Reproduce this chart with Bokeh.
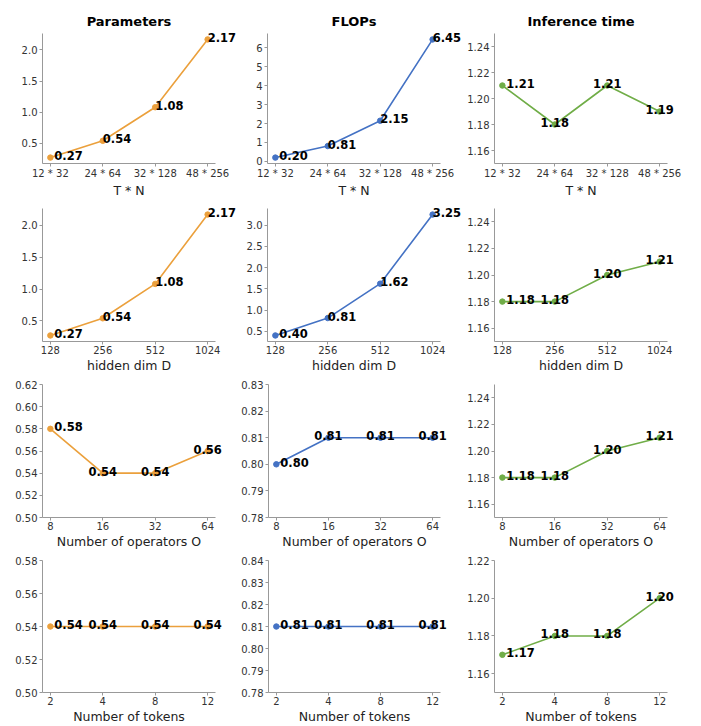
from bokeh.plotting import figure
from bokeh.layouts import column, row
from bokeh.models import Range1d, FixedTicker, SingleIntervalTicker, NumeralTickFormatter, ColumnDataSource
from bokeh.core.properties import value
from bokeh.embed import file_html
from bokeh.resources import INLINE

# ---------------- data ----------------
titles = ["Parameters", "FLOPs", "Inference time"]

x_tn = ["12 * 32", "24 * 64", "32 * 128", "48 * 256"]
x_dim = ["128", "256", "512", "1024"]
x_ops = ["8", "16", "32", "64"]
x_tok = ["2", "4", "8", "12"]

x_labels = ["T * N", "hidden dim D", "Number of operators O", "Number of tokens"]

params_tn = [0.27, 0.54, 1.08, 2.17]
flops_tn = [0.20, 0.81, 2.15, 6.45]
time_tn = [1.21, 1.18, 1.21, 1.19]

params_dim = [0.27, 0.54, 1.08, 2.17]
flops_dim = [0.40, 0.81, 1.62, 3.25]
time_dim = [1.18, 1.18, 1.20, 1.21]

params_ops = [0.58, 0.54, 0.54, 0.56]
flops_ops = [0.80, 0.81, 0.81, 0.81]
time_ops = [1.18, 1.18, 1.20, 1.21]

params_tok = [0.54, 0.54, 0.54, 0.54]
flops_tok = [0.81, 0.81, 0.81, 0.81]
time_tok = [1.17, 1.18, 1.18, 1.20]

# ---------------- style ----------------
FONT = "DejaVu Sans"
ORANGE = "#EBA03C"
BLUE = "#4472C4"
GREEN = "#70AD47"
colors = [ORANGE, BLUE, GREEN]

FRAME_W = 173
LEFT_B = [42, 29, 30]
RIGHT_B = [23, 24, 20]
FRAME_H = 135
TOP_B = [33, 8, 9, 9]
BOT_B = [32, 32, 32, 31]
EPS = 1e-9

# per panel: (values, y limits or None for auto, tick interval, tick format, label alignment of points 2-4)
panels = [
    [(params_tn, None, 0.5, "0.0", "left"), (flops_tn, None, 1, "0", "left"), (time_tn, (1.15, 1.25), 0.02, "0.00", "center")],
    [(params_dim, None, 0.5, "0.0", "left"), (flops_dim, None, 0.5, "0.0", "left"), (time_dim, (1.15, 1.25), 0.02, "0.00", "center")],
    [(params_ops, (0.50, 0.62), 0.02, "0.00", "center"), (flops_ops, (0.78, 0.83), 0.01, "0.00", "center"), (time_ops, (1.15, 1.25), 0.02, "0.00", "center")],
    [(params_tok, (0.50, 0.58), 0.02, "0.00", "center"), (flops_tok, (0.78, 0.84), 0.01, "0.00", "center"), (time_tok, (1.15, 1.22), 0.02, "0.00", "center")],
]
x_cats = [x_tn, x_dim, x_ops, x_tok]

rows = []
for r in range(4):
    figs = []
    cats = x_cats[r]
    xs = list(range(len(cats)))
    for c in range(3):
        vals, ylim, interval, fmt, align = panels[r][c]
        if ylim is None:
            lo, hi = min(vals), max(vals)
            span = hi - lo
            ylim = (lo - 0.05 * span, hi + 0.05 * span)
        w = LEFT_B[c] + FRAME_W + RIGHT_B[c]
        h = TOP_B[r] + FRAME_H + BOT_B[r]
        p = figure(width=w, height=h, output_backend="svg", toolbar_location=None,
                   x_range=Range1d(-0.15, len(cats) - 1 + 0.15),
                   y_range=Range1d(ylim[0] - EPS, ylim[1] + EPS),
                   min_border_left=LEFT_B[c], min_border_right=RIGHT_B[c],
                   min_border_top=TOP_B[r], min_border_bottom=BOT_B[r],
                   title=titles[c] if r == 0 else None)
        if r == 0:
            p.title.align = "center"
            p.title.text_font = FONT
            p.title.text_font_size = "13px"
            p.title.text_font_style = "bold"
            p.title.text_color = "#000000"
            p.title.standoff = 10
        p.outline_line_color = None
        p.grid.visible = False
        p.background_fill_color = "white"
        p.border_fill_color = "white"

        p.xaxis.ticker = FixedTicker(ticks=xs)
        p.xaxis.major_label_overrides = {i: s for i, s in enumerate(cats)}
        p.yaxis.ticker = SingleIntervalTicker(interval=interval)
        p.yaxis.formatter = NumeralTickFormatter(format=fmt)
        p.xaxis.axis_label = x_labels[r]
        p.xaxis.axis_label_text_font = FONT
        p.xaxis.axis_label_text_font_size = "12.5px"
        p.xaxis.axis_label_text_font_style = "normal"
        p.xaxis.axis_label_text_color = "#222222"
        p.xaxis.axis_label_standoff = 1
        for ax in (p.xaxis, p.yaxis):
            ax.axis_line_color = "#999999"
            ax.axis_line_width = 1
            ax.major_tick_line_color = "#999999"
            ax.major_tick_out = 3
            ax.major_tick_in = 0
            ax.minor_tick_line_color = None
            ax.major_label_text_font = FONT
            ax.major_label_text_font_size = "10px"
            ax.major_label_text_color = "#333333"
            ax.major_label_standoff = 1

        col = colors[c]
        p.line(xs, vals, line_color=col, line_width=1.6)
        p.scatter(xs, vals, size=5.5, fill_color=col, line_color=col)

        aligns = ["left"] + [align] * (len(vals) - 1)
        xoffs = [4] + [0] * (len(vals) - 1)
        src = ColumnDataSource(dict(x=xs, y=vals, t=["%.2f" % v for v in vals], a=aligns, xo=xoffs))
        p.text(x="x", y="y", text="t", source=src, text_align="a", x_offset="xo", y_offset=-2,
               text_baseline="alphabetic", text_font=value(FONT), text_font_style="bold",
               text_font_size="11.5px", text_color="#000000", level="overlay")
        figs.append(p)
    rows.append(row(*figs, spacing=0))

layout = column(*rows, spacing=0)

open("out.html", "w").write(file_html(layout, INLINE))
